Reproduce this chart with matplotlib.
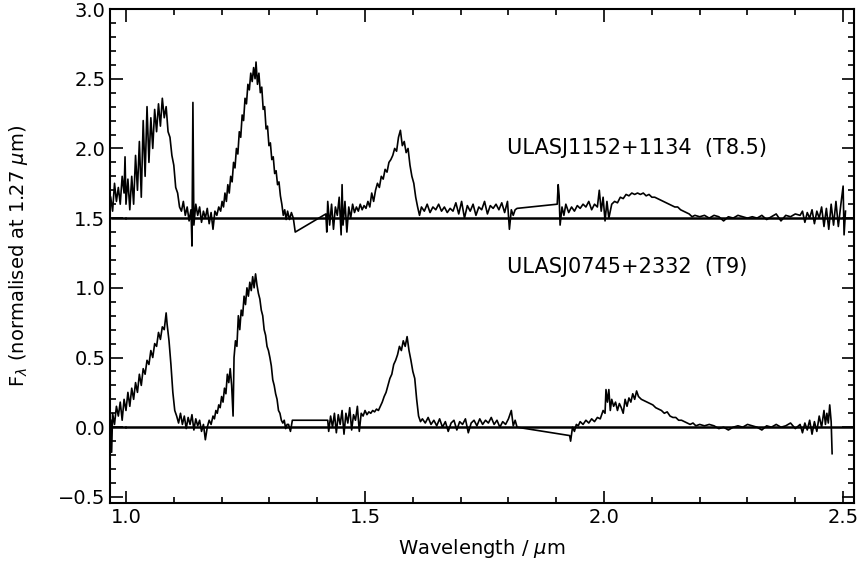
import matplotlib
matplotlib.use("Agg")
import matplotlib.pyplot as plt
from matplotlib.ticker import MultipleLocator

# ULASJ1152+1134 (T8.5), plotted with an offset of 1.5
wl_top_y = [0.968, 0.972, 0.976, 0.980, 0.984, 0.988, 0.992, 0.996, 0.998, 1.000, 1.004, 1.008,
            1.012, 1.016, 1.020, 1.024, 1.028, 1.032, 1.036, 1.040, 1.044, 1.048, 1.052, 1.056,
            1.060, 1.064, 1.068, 1.072, 1.076, 1.080, 1.084, 1.088, 1.092, 1.096, 1.100, 1.104,
            1.108, 1.112, 1.116, 1.120, 1.124, 1.128, 1.132, 1.136, 1.138, 1.140, 1.142, 1.146,
            1.150, 1.154, 1.158, 1.162, 1.166, 1.170, 1.174, 1.178, 1.182, 1.186, 1.190, 1.194]
flux_top_y = [0.15, 0.05, 0.25, 0.12, 0.22, 0.10, 0.30, 0.18, 0.44, 0.10, 0.28, 0.06,
              0.30, 0.10, 0.45, 0.20, 0.55, 0.15, 0.70, 0.30, 0.80, 0.40, 0.72, 0.50,
              0.78, 0.62, 0.82, 0.66, 0.86, 0.72, 0.80, 0.62, 0.58, 0.45, 0.38, 0.22,
              0.18, 0.08, 0.05, 0.12, 0.02, 0.08, -0.02, 0.06, -0.20, 0.83, -0.05, 0.10,
              0.02, 0.08, -0.03, 0.05, 0.00, 0.07, -0.04, 0.04, -0.08, 0.05, 0.02, 0.08]
wl_top_j = [1.198, 1.201, 1.204, 1.207, 1.210, 1.213, 1.216, 1.219, 1.222, 1.225, 1.228, 1.231,
            1.234, 1.237, 1.240, 1.243, 1.246, 1.249, 1.252, 1.255, 1.258, 1.261, 1.264, 1.267,
            1.270, 1.272, 1.275, 1.278, 1.281, 1.284, 1.287, 1.290, 1.293, 1.296, 1.299, 1.302,
            1.305, 1.308, 1.311, 1.314, 1.317, 1.320, 1.323, 1.326, 1.329, 1.332, 1.335]
flux_top_j = [0.05, 0.12, 0.08, 0.18, 0.12, 0.24, 0.18, 0.30, 0.26, 0.40, 0.36, 0.50,
              0.46, 0.62, 0.58, 0.74, 0.70, 0.86, 0.82, 0.96, 0.92, 1.04, 0.98, 1.08,
              1.00, 1.12, 0.96, 1.04, 0.90, 0.94, 0.78, 0.80, 0.64, 0.66, 0.52, 0.54,
              0.42, 0.44, 0.32, 0.34, 0.24, 0.26, 0.16, 0.10, 0.02, 0.06, -0.01]
wl_top_h = [1.338, 1.342, 1.346, 1.350, 1.354, 1.418, 1.420, 1.422, 1.426, 1.430, 1.434,
            1.438, 1.442, 1.446, 1.450, 1.452, 1.454, 1.458, 1.462, 1.466, 1.470, 1.474, 1.478,
            1.482, 1.486, 1.490, 1.494, 1.498, 1.502, 1.506, 1.510, 1.514, 1.518, 1.522, 1.526,
            1.530, 1.534, 1.538, 1.542, 1.546, 1.550, 1.554, 1.558, 1.562, 1.566, 1.570, 1.574,
            1.578, 1.582, 1.586, 1.590, 1.594, 1.598, 1.602, 1.606, 1.610, 1.614, 1.618]
flux_top_h = [0.05, -0.01, 0.04, 0.00, -0.10, 0.03, -0.10, 0.12, -0.05, 0.10, -0.08,
              0.08, 0.02, 0.15, -0.12, 0.24, -0.05, 0.12, -0.10, 0.08, 0.00, 0.10, 0.04,
              0.08, 0.05, 0.10, 0.06, 0.09, 0.07, 0.12, 0.08, 0.18, 0.12, 0.20, 0.25,
              0.22, 0.30, 0.28, 0.35, 0.33, 0.40, 0.42, 0.45, 0.50, 0.48, 0.58, 0.63,
              0.52, 0.55, 0.47, 0.50, 0.38, 0.30, 0.25, 0.15, 0.08, 0.02, 0.08]
wl_top_k = [1.624, 1.630, 1.636, 1.642, 1.648, 1.654, 1.660, 1.666, 1.672, 1.678, 1.684, 1.690,
            1.696, 1.702, 1.708, 1.714, 1.720, 1.726, 1.732, 1.738, 1.744, 1.750, 1.756, 1.762,
            1.768, 1.774, 1.780, 1.786, 1.792, 1.798, 1.802, 1.806, 1.810, 1.814, 1.818, 1.902,
            1.904, 1.906, 1.908, 1.912, 1.916, 1.920, 1.926, 1.932, 1.938, 1.944, 1.950, 1.956,
            1.962, 1.968, 1.974, 1.980, 1.986, 1.990, 1.994, 1.998, 2.002, 2.006, 2.010, 2.016,
            2.022, 2.028, 2.034, 2.040, 2.046, 2.052, 2.058, 2.064, 2.070, 2.076, 2.082, 2.088,
            2.094, 2.100, 2.106, 2.112, 2.118, 2.124, 2.130, 2.136, 2.142, 2.148, 2.154, 2.160,
            2.166, 2.172, 2.178, 2.184, 2.190, 2.200, 2.210, 2.220, 2.230, 2.240, 2.250, 2.260,
            2.270, 2.280, 2.290, 2.300, 2.310, 2.320, 2.330, 2.340, 2.350, 2.360, 2.370, 2.380,
            2.390, 2.400, 2.410, 2.415, 2.420, 2.425, 2.430, 2.435, 2.440, 2.445, 2.450, 2.455,
            2.460, 2.465, 2.470, 2.475, 2.480, 2.485, 2.490, 2.495, 2.500, 2.502, 2.505]
flux_top_k = [0.05, 0.10, 0.04, 0.08, 0.06, 0.10, 0.05, 0.08, 0.04, 0.07, 0.05, 0.11,
              0.03, 0.12, 0.00, 0.09, 0.05, 0.10, 0.02, 0.08, 0.06, 0.12, 0.03, 0.09,
              0.07, 0.10, 0.06, 0.11, 0.04, 0.12, -0.08, 0.06, 0.02, 0.06, 0.07, 0.10,
              0.24, 0.16, -0.05, 0.08, 0.02, 0.10, 0.04, 0.08, 0.05, 0.09, 0.07, 0.10,
              0.08, 0.12, 0.06, 0.10, 0.08, 0.20, 0.05, 0.15, -0.02, 0.12, 0.00, 0.10,
              0.12, 0.11, 0.15, 0.14, 0.17, 0.16, 0.18, 0.17, 0.18, 0.17, 0.18, 0.16,
              0.17, 0.15, 0.15, 0.14, 0.13, 0.12, 0.11, 0.10, 0.09, 0.08, 0.08, 0.06,
              0.05, 0.04, 0.03, 0.01, 0.02, 0.01, 0.02, 0.00, 0.02, 0.01, -0.02, 0.01,
              0.00, 0.02, 0.01, 0.00, 0.01, 0.00, 0.02, -0.01, 0.01, 0.03, -0.02, 0.02,
              0.01, 0.03, 0.02, 0.05, -0.03, 0.04, 0.00, 0.06, -0.04, 0.05, 0.00, 0.08,
              -0.06, 0.07, -0.08, 0.10, -0.05, 0.12, -0.06, 0.09, 0.23, -0.12, 0.05]

# ULASJ0745+2332 (T9)
wl_bot_y = [0.968, 0.970, 0.972, 0.976, 0.980, 0.984, 0.988, 0.992, 0.996, 1.000, 1.004, 1.008,
            1.012, 1.016, 1.020, 1.024, 1.028, 1.032, 1.036, 1.040, 1.044, 1.048, 1.052, 1.056,
            1.060, 1.064, 1.068, 1.072, 1.076, 1.080, 1.084, 1.086, 1.090, 1.094, 1.098, 1.102,
            1.106, 1.110, 1.114, 1.118, 1.122, 1.126, 1.130, 1.134, 1.138, 1.142, 1.146, 1.150,
            1.154, 1.158, 1.162, 1.166, 1.170, 1.174, 1.178]
flux_bot_y = [0.05, -0.18, 0.10, 0.02, 0.15, 0.08, 0.18, 0.05, 0.20, 0.12, 0.25, 0.15,
              0.28, 0.20, 0.32, 0.25, 0.38, 0.30, 0.42, 0.38, 0.48, 0.45, 0.55, 0.50,
              0.60, 0.58, 0.68, 0.63, 0.72, 0.70, 0.82, 0.74, 0.62, 0.45, 0.25, 0.12,
              0.08, 0.03, 0.10, 0.02, 0.08, -0.01, 0.07, 0.02, 0.09, -0.02, 0.06, 0.01,
              0.05, -0.03, 0.02, -0.09, 0.00, 0.05, 0.02]
wl_bot_j = [1.182, 1.185, 1.188, 1.191, 1.194, 1.197, 1.200, 1.203, 1.206, 1.209, 1.212, 1.215,
            1.218, 1.221, 1.224, 1.226, 1.229, 1.232, 1.235, 1.238, 1.241, 1.244, 1.247, 1.250,
            1.253, 1.256, 1.259, 1.262, 1.265, 1.268, 1.271, 1.274, 1.277, 1.280, 1.283, 1.286,
            1.289, 1.292, 1.295, 1.298, 1.301, 1.304, 1.307, 1.310, 1.313, 1.316, 1.319, 1.322,
            1.325, 1.328, 1.331, 1.334, 1.337]
flux_bot_j = [0.08, 0.06, 0.12, 0.10, 0.16, 0.14, 0.22, 0.18, 0.28, 0.24, 0.38, 0.32,
              0.42, 0.30, 0.08, 0.50, 0.62, 0.58, 0.80, 0.70, 0.84, 0.80, 0.94, 0.88,
              1.00, 0.94, 1.04, 0.98, 1.08, 1.00, 1.10, 1.02, 0.96, 0.92, 0.84, 0.80,
              0.70, 0.66, 0.58, 0.55, 0.50, 0.44, 0.34, 0.30, 0.24, 0.20, 0.12, 0.10,
              0.05, 0.03, 0.05, -0.01, 0.02]
wl_bot_h = [1.340, 1.344, 1.348, 1.422, 1.424, 1.428, 1.432, 1.436, 1.440, 1.444, 1.448, 1.452,
            1.456, 1.460, 1.464, 1.468, 1.472, 1.476, 1.480, 1.484, 1.488, 1.492, 1.496, 1.500,
            1.504, 1.508, 1.512, 1.516, 1.520, 1.524, 1.528, 1.532, 1.536, 1.540, 1.544, 1.548,
            1.552, 1.556, 1.560, 1.564, 1.568, 1.572, 1.576, 1.580, 1.584, 1.588, 1.592, 1.596,
            1.600, 1.604, 1.608, 1.612, 1.616, 1.620]
flux_bot_h = [0.02, -0.03, 0.05, 0.05, -0.03, 0.08, 0.00, 0.10, -0.04, 0.09, 0.02, 0.12,
              -0.05, 0.10, 0.03, 0.14, -0.02, 0.09, 0.05, 0.15, -0.03, 0.10, 0.08, 0.12,
              0.09, 0.11, 0.10, 0.12, 0.11, 0.13, 0.12, 0.15, 0.18, 0.22, 0.25, 0.30,
              0.35, 0.38, 0.45, 0.48, 0.52, 0.58, 0.55, 0.62, 0.58, 0.65, 0.55, 0.48,
              0.40, 0.35, 0.20, 0.08, 0.04, 0.06]
wl_bot_k = [1.626, 1.632, 1.638, 1.644, 1.650, 1.656, 1.662, 1.668, 1.674, 1.680, 1.686, 1.692,
            1.698, 1.704, 1.710, 1.716, 1.722, 1.728, 1.734, 1.740, 1.746, 1.752, 1.758, 1.764,
            1.770, 1.776, 1.782, 1.788, 1.794, 1.800, 1.806, 1.810, 1.814, 1.818, 1.928, 1.930,
            1.934, 1.938, 1.942, 1.946, 1.950, 1.956, 1.962, 1.968, 1.974, 1.980, 1.986, 1.992,
            1.998, 2.002, 2.004, 2.007, 2.010, 2.013, 2.016, 2.020, 2.024, 2.028, 2.032, 2.036,
            2.040, 2.044, 2.048, 2.052, 2.056, 2.060, 2.064, 2.068, 2.072, 2.078, 2.084, 2.090,
            2.096, 2.102, 2.108, 2.114, 2.120, 2.126, 2.132, 2.138, 2.144, 2.150, 2.156, 2.162,
            2.168, 2.174, 2.180, 2.186, 2.192, 2.200, 2.210, 2.220, 2.230, 2.240, 2.250, 2.260,
            2.270, 2.280, 2.290, 2.300, 2.310, 2.320, 2.330, 2.340, 2.350, 2.360, 2.370, 2.380,
            2.390, 2.400, 2.410, 2.415, 2.420, 2.425, 2.430, 2.435, 2.440, 2.445, 2.450, 2.455,
            2.460, 2.463, 2.466, 2.469, 2.472, 2.475, 2.477]
flux_bot_k = [0.03, 0.07, 0.02, 0.05, 0.01, 0.06, 0.00, 0.04, -0.03, 0.03, 0.05, -0.02,
              0.04, 0.02, 0.06, -0.04, 0.03, 0.05, 0.01, 0.06, 0.02, 0.05, 0.03, 0.07,
              0.02, 0.05, 0.00, 0.04, 0.02, 0.06, 0.12, 0.01, 0.05, 0.00, -0.06, -0.10,
              0.00, -0.03, 0.02, 0.01, 0.04, 0.02, 0.05, 0.03, 0.06, 0.04, 0.07, 0.06,
              0.12, 0.10, 0.27, 0.18, 0.27, 0.12, 0.20, 0.15, 0.18, 0.12, 0.17, 0.14,
              0.10, 0.20, 0.15, 0.21, 0.18, 0.24, 0.20, 0.26, 0.22, 0.20, 0.19, 0.18,
              0.17, 0.16, 0.14, 0.13, 0.12, 0.10, 0.11, 0.08, 0.07, 0.07, 0.05, 0.05,
              0.04, 0.03, 0.02, 0.03, 0.01, 0.02, 0.01, 0.02, 0.01, -0.01, 0.00, -0.02,
              0.00, 0.01, 0.00, 0.02, 0.01, 0.00, -0.02, 0.01, 0.00, 0.02, 0.00, 0.01,
              0.03, -0.01, 0.02, -0.04, 0.03, -0.02, 0.05, -0.05, 0.04, -0.03, 0.08, 0.00,
              0.12, 0.02, 0.10, 0.03, 0.16, 0.04, -0.19]

offset_top = 1.5
labels = ["ULASJ1152+1134  (T8.5)", "ULASJ0745+2332  (T9)"]
label_x = 1.797
label_y = [2.0, 1.15]

wl_top = wl_top_y + wl_top_j + wl_top_h + wl_top_k
flux_top = flux_top_y + flux_top_j + flux_top_h + flux_top_k
wl_bot = wl_bot_y + wl_bot_j + wl_bot_h + wl_bot_k
flux_bot = flux_bot_y + flux_bot_j + flux_bot_h + flux_bot_k

fig = plt.figure(figsize=(8.61, 5.66), dpi=100)
ax = fig.add_axes([0.128, 0.111, 0.864, 0.873])

ax.plot(wl_top, [f + offset_top for f in flux_top], color="black", lw=1.2)
ax.plot(wl_bot, flux_bot, color="black", lw=1.2)
# zero levels (with the small break near 1.0 um as in the original)
for lev in [offset_top, 0.0]:
    ax.plot([0.97, 0.997], [lev, lev], color="black", lw=1.8)
    ax.plot([1.001, 2.523], [lev, lev], color="black", lw=1.8)

for txt, yy in zip(labels, label_y):
    ax.text(label_x, yy, txt, fontsize=15, va="center", ha="left")

ax.set_xlim(0.967, 2.523)
ax.set_ylim(-0.545, 3.0)
ax.xaxis.set_major_locator(MultipleLocator(0.5))
ax.xaxis.set_minor_locator(MultipleLocator(0.1))
ax.yaxis.set_major_locator(MultipleLocator(0.5))
ax.yaxis.set_minor_locator(MultipleLocator(0.1))
ax.tick_params(which="both", direction="in", top=True, right=True, labelsize=14, width=1.2)
ax.tick_params(which="major", length=9)
ax.tick_params(which="minor", length=4.5)
for s in ax.spines.values():
    s.set_linewidth(1.5)

ax.set_xlabel(r"Wavelength / $\mu$m", fontsize=14, labelpad=7)
ax.set_ylabel(r"F$_\lambda$ (normalised at 1.27 $\mu$m)", fontsize=14, labelpad=20)

fig.savefig("out.png", dpi=100)
